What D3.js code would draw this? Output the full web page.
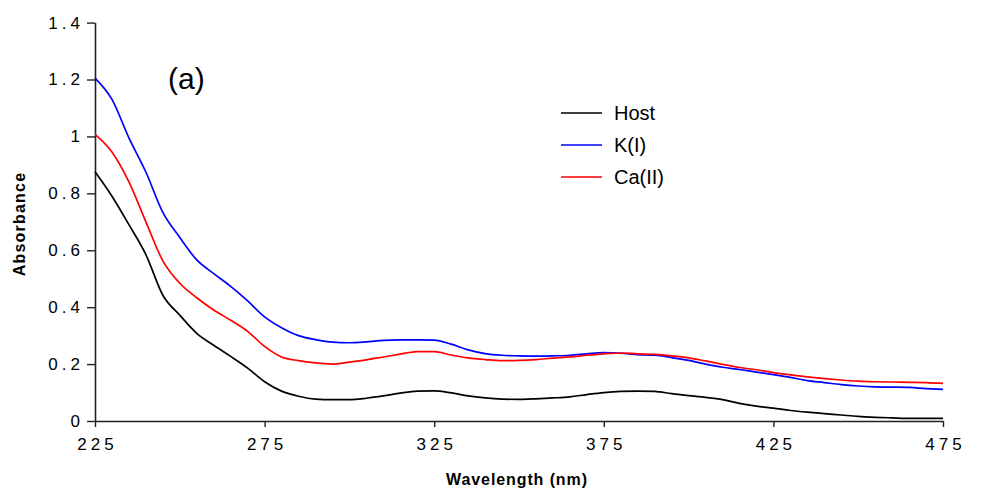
<!DOCTYPE html>
<html>
<head>
<meta charset="utf-8">
<script src="https://cdn.jsdelivr.net/npm/d3@7"></script>
<style>
  body { margin: 0; background: #fff; }
  text { font-family: "Liberation Sans", Arial, sans-serif; }
</style>
</head>
<body>
<div class="spectrum"></div>
<script>
// wavelength grid (nm), every 5 nm
const wavelength = d3.range(225, 476, 5);

const host = [0.876, 0.790, 0.690, 0.585, 0.442, 0.372, 0.308, 0.266, 0.227, 0.186,
  0.138, 0.105, 0.087, 0.077, 0.075, 0.075, 0.080, 0.088, 0.098, 0.105,
  0.106, 0.099, 0.088, 0.081, 0.077, 0.076, 0.078, 0.081, 0.085, 0.093,
  0.100, 0.104, 0.105, 0.104, 0.096, 0.089, 0.083, 0.075, 0.062, 0.052,
  0.045, 0.037, 0.031, 0.026, 0.021, 0.016, 0.013, 0.011, 0.009, 0.009, 0.009];

const potassium = [1.205, 1.130, 0.995, 0.875, 0.733, 0.645, 0.566, 0.518, 0.473, 0.422,
  0.366, 0.328, 0.300, 0.286, 0.277, 0.275, 0.278, 0.283, 0.285, 0.285,
  0.284, 0.270, 0.250, 0.237, 0.231, 0.229, 0.228, 0.229, 0.231, 0.236,
  0.240, 0.238, 0.233, 0.231, 0.223, 0.213, 0.200, 0.189, 0.181, 0.172,
  0.163, 0.153, 0.142, 0.135, 0.128, 0.123, 0.120, 0.119, 0.118, 0.114, 0.111];

const calcium = [1.007, 0.945, 0.840, 0.700, 0.563, 0.484, 0.433, 0.390, 0.354, 0.315,
  0.262, 0.225, 0.212, 0.204, 0.200, 0.207, 0.215, 0.225, 0.235, 0.244,
  0.244, 0.232, 0.222, 0.216, 0.212, 0.213, 0.216, 0.221, 0.225, 0.231,
  0.236, 0.239, 0.236, 0.234, 0.229, 0.222, 0.211, 0.199, 0.188, 0.180,
  0.170, 0.162, 0.155, 0.149, 0.144, 0.140, 0.138, 0.137, 0.136, 0.135, 0.132];

const seriesNames = ["Host", "K(I)", "Ca(II)"];
const seriesColors = ["#000000", "#0000ff", "#ff0000"];
const xTicks = [225, 275, 325, 375, 425, 475];
const yTicks = [0, 0.2, 0.4, 0.6, 0.8, 1, 1.2, 1.4];

const width = 983, height = 490;
const plotLeft = 95, plotRight = 943, plotTop = 22.6, plotBottom = 421;

const svg = d3.select(".spectrum")
  .append("svg")
    .attr("width", width)
    .attr("height", height);

const x = d3.scaleLinear().domain([225, 475]).range([plotLeft, plotRight]);
const y = d3.scaleLinear().domain([0, 1.4]).range([plotBottom, plotTop]);

const xAxis = d3.axisBottom(x)
  .tickValues(xTicks)
  .tickSizeInner(6)
  .tickSizeOuter(0)
  .tickPadding(11)
  .tickFormat(d3.format("d"));

const yAxis = d3.axisLeft(y)
  .tickValues(yTicks)
  .tickSizeInner(8)
  .tickSizeOuter(0)
  .tickPadding(3)
  .tickFormat(d3.format("~g"));

svg.append("g")
  .attr("transform", `translate(0,${plotBottom})`)
  .call(xAxis)
  .call(g => g.select(".domain").attr("stroke", "#222").attr("stroke-width", 1.6))
  .call(g => g.selectAll(".tick line").attr("stroke", "#222").attr("stroke-width", 1.4))
  .call(g => g.selectAll(".tick text")
    .attr("font-size", 17)
    .attr("font-family", "Liberation Sans, Arial, sans-serif")
    .attr("letter-spacing", 4)
    .attr("dx", 2)
    .attr("fill", "#000"));

svg.append("g")
  .attr("transform", `translate(${plotLeft},0)`)
  .call(yAxis)
  .call(g => g.select(".domain").attr("stroke", "#222").attr("stroke-width", 1.6))
  .call(g => g.selectAll(".tick line").attr("stroke", "#222").attr("stroke-width", 1.4))
  .call(g => g.selectAll(".tick text")
    .attr("font-size", 17)
    .attr("font-family", "Liberation Sans, Arial, sans-serif")
    .attr("letter-spacing", 4)
    .attr("fill", "#000"));

// axis titles
svg.append("text")
  .attr("x", 517)
  .attr("y", 485)
  .attr("text-anchor", "middle")
  .attr("font-size", 16)
  .attr("font-weight", "bold")
  .attr("letter-spacing", 0.9)
  .text("Wavelength (nm)");

svg.append("text")
  .attr("transform", "translate(25,224) rotate(-90)")
  .attr("text-anchor", "middle")
  .attr("font-size", 16)
  .attr("font-weight", "bold")
  .attr("letter-spacing", 1.2)
  .text("Absorbance");

svg.append("text")
  .attr("x", 168)
  .attr("y", 89)
  .attr("font-size", 30)
  .text("(a)");

// spectra
const allSeries = [host, potassium, calcium];
const line = d3.line()
  .curve(d3.curveMonotoneX)
  .x((d, i) => x(wavelength[i]))
  .y(d => y(d));

svg.selectAll(".spec")
  .data(allSeries)
  .join("path")
    .attr("class", "spec")
    .attr("fill", "none")
    .attr("stroke", (d, i) => seriesColors[i])
    .attr("stroke-width", 1.7)
    .attr("d", line);

// legend
const legend = svg.append("g")
  .selectAll("g")
  .data(seriesNames)
  .join("g")
    .attr("transform", (d, i) => `translate(561,${113 + i * 32})`);

legend.append("line")
  .attr("x1", 0)
  .attr("x2", 41)
  .attr("stroke", (d, i) => seriesColors[i])
  .attr("stroke-width", 1.7);

legend.append("text")
  .attr("x", 53)
  .attr("dy", "0.36em")
  .attr("font-size", 20)
  .text(d => d);
</script>
</body>
</html>
